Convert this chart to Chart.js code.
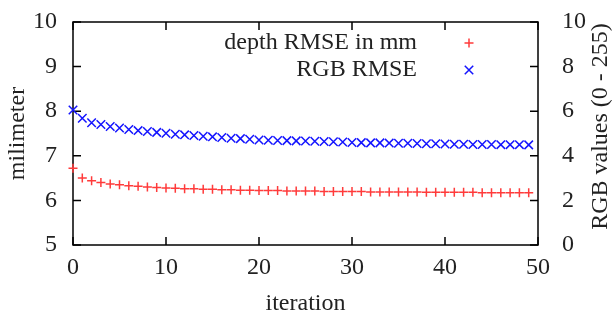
<!DOCTYPE html>
<html>
<head>
<meta charset="utf-8">
<script src="https://cdn.jsdelivr.net/npm/chart.js@4.4.1/dist/chart.umd.min.js"></script>
<style>
  html, body { margin: 0; padding: 0; background: #fff; }
</style>
</head>
<body>
<canvas id="chart" width="615" height="320"></canvas>
<script>
// Dados
const iteration = [
  0, 1, 2, 3, 4, 5, 6, 7, 8, 9,
  10, 11, 12, 13, 14, 15, 16, 17, 18, 19,
  20, 21, 22, 23, 24, 25, 26, 27, 28, 29,
  30, 31, 32, 33, 34, 35, 36, 37, 38, 39,
  40, 41, 42, 43, 44, 45, 46, 47, 48, 49
];
const depthRmse = [
  6.72, 6.50, 6.44, 6.40, 6.37, 6.35, 6.33, 6.32, 6.30, 6.29,
  6.28, 6.27, 6.26, 6.26, 6.25, 6.25, 6.24, 6.24, 6.23, 6.23,
  6.22, 6.22, 6.22, 6.21, 6.21, 6.21, 6.21, 6.20, 6.20, 6.20,
  6.20, 6.20, 6.19, 6.19, 6.19, 6.19, 6.19, 6.19, 6.18, 6.18,
  6.18, 6.18, 6.18, 6.18, 6.17, 6.17, 6.17, 6.17, 6.17, 6.17
];
const rgbRmse = [
  6.05, 5.68, 5.48, 5.40, 5.31, 5.25, 5.18, 5.13, 5.09, 5.05,
  5.01, 4.97, 4.94, 4.91, 4.88, 4.85, 4.82, 4.79, 4.77, 4.74,
  4.71, 4.70, 4.69, 4.68, 4.67, 4.66, 4.65, 4.64, 4.63, 4.62,
  4.60, 4.59, 4.58, 4.58, 4.57, 4.56, 4.56, 4.55, 4.54, 4.54,
  4.53, 4.52, 4.52, 4.51, 4.51, 4.51, 4.50, 4.50, 4.50, 4.49
];
const xTicks = [0, 10, 20, 30, 40, 50];
const mmTicks = [5, 6, 7, 8, 9, 10];
const rgbTicks = [0, 2, 4, 6, 8, 10];

const FONT = { family: '"Liberation Serif", "Times New Roman", serif', size: 24 };
const TEXT = '#222';

// Moldura, ticks internos, legenda e título do eixo direito no estilo gnuplot
const gnuplotFrame = {
  id: 'gnuplotFrame',
  beforeDatasetsDraw(chart) {
    const { ctx, chartArea: a, scales } = chart;
    const len = 8;
    ctx.save();
    ctx.strokeStyle = '#000';
    ctx.lineWidth = 1.5;
    ctx.beginPath();
    scales.y.ticks.forEach(t => {
      const y = scales.y.getPixelForValue(t.value);
      ctx.moveTo(a.left, y); ctx.lineTo(a.left + len, y);
    });
    scales.y2.ticks.forEach(t => {
      const y = scales.y2.getPixelForValue(t.value);
      ctx.moveTo(a.right, y); ctx.lineTo(a.right - len, y);
    });
    scales.x.ticks.forEach(t => {
      const x = scales.x.getPixelForValue(t.value);
      ctx.moveTo(x, a.bottom); ctx.lineTo(x, a.bottom - len);
      ctx.moveTo(x, a.top); ctx.lineTo(x, a.top + len);
    });
    ctx.stroke();
    ctx.strokeRect(a.left, a.top, a.right - a.left, a.bottom - a.top);
    ctx.restore();
  },
  afterDraw(chart) {
    const { ctx, chartArea: a } = chart;
    ctx.save();
    ctx.font = `${FONT.size}px ${FONT.family}`;
    ctx.fillStyle = TEXT;
    ctx.textBaseline = 'middle';
    ctx.textAlign = 'right';
    chart.data.datasets.forEach((ds, i) => {
      const y = a.top + 21 + i * 27;
      ctx.fillStyle = TEXT;
      ctx.fillText(ds.label, a.right - 121, y);
      ctx.strokeStyle = ds.borderColor;
      ctx.lineWidth = ds.borderWidth;
      Chart.helpers.drawPoint(ctx, {
        pointStyle: ds.pointStyle, radius: ds.pointRadius, borderWidth: ds.borderWidth
      }, a.right - 69, y);
    });
    // título do eixo direito, lido de baixo para cima
    const title = chart.scales.y2.options.title.text;
    ctx.translate(601, (a.top + a.bottom) / 2 - 7);
    ctx.rotate(-Math.PI / 2);
    ctx.textAlign = 'center';
    ctx.fillStyle = TEXT;
    ctx.fillText(title, 0, 0);
    ctx.restore();
  }
};

// fixa a largura/altura dos eixos e remove o espaço extra reservado aos rótulos
const fixSize = (prop, size) => s => {
  s[prop] = size;
  s.paddingTop = 0; s.paddingBottom = 0; s.paddingLeft = 0; s.paddingRight = 0;
};

new Chart(document.getElementById('chart'), {
  type: 'scatter',
  data: {
    datasets: [
      {
        label: 'depth RMSE in mm',
        data: iteration.map((x, i) => ({ x, y: depthRmse[i] })),
        yAxisID: 'y',
        pointStyle: 'cross',
        pointRadius: 4.5,
        borderWidth: 1.5,
        borderColor: '#ff3b3b',
        backgroundColor: '#ff3b3b',
        clip: false
      },
      {
        label: 'RGB RMSE',
        data: iteration.map((x, i) => ({ x, y: rgbRmse[i] })),
        yAxisID: 'y2',
        pointStyle: 'crossRot',
        pointRadius: 6,
        borderWidth: 1.5,
        borderColor: '#1414ff',
        backgroundColor: '#1414ff',
        clip: false
      }
    ]
  },
  options: {
    responsive: false,
    animation: false,
    layout: { padding: { top: 22, left: 0, right: 0, bottom: 0 } },
    plugins: { legend: { display: false }, tooltip: { enabled: false } },
    scales: {
      x: {
        type: 'linear', position: 'bottom', min: 0, max: 50,
        afterBuildTicks: s => { s.ticks = xTicks.map(v => ({ value: v })); },
        afterFit: fixSize('height', 75),
        grid: { display: false, drawTicks: false }, border: { display: false },
        ticks: { font: FONT, color: TEXT, padding: 8, maxRotation: 0 },
        title: { display: true, text: 'iteration', font: FONT, color: TEXT, padding: { top: 0, bottom: 2 } }
      },
      y: {
        type: 'linear', position: 'left', min: 5, max: 10,
        afterBuildTicks: s => { s.ticks = mmTicks.map(v => ({ value: v })); },
        afterFit: fixSize('width', 73),
        grid: { display: false, drawTicks: false }, border: { display: false },
        ticks: { font: FONT, color: TEXT, padding: 16 },
        title: { display: true, text: 'milimeter', font: FONT, color: TEXT, padding: { top: 3, bottom: 0 } }
      },
      y2: {
        type: 'linear', position: 'right', min: 0, max: 10,
        afterBuildTicks: s => { s.ticks = rgbTicks.map(v => ({ value: v })); },
        afterFit: fixSize('width', 77),
        grid: { display: false, drawTicks: false }, border: { display: false },
        ticks: { font: FONT, color: TEXT, padding: 24 },
        title: { display: false, text: 'RGB values (0 - 255)' }
      }
    }
  },
  plugins: [gnuplotFrame]
});
</script>
</body>
</html>
